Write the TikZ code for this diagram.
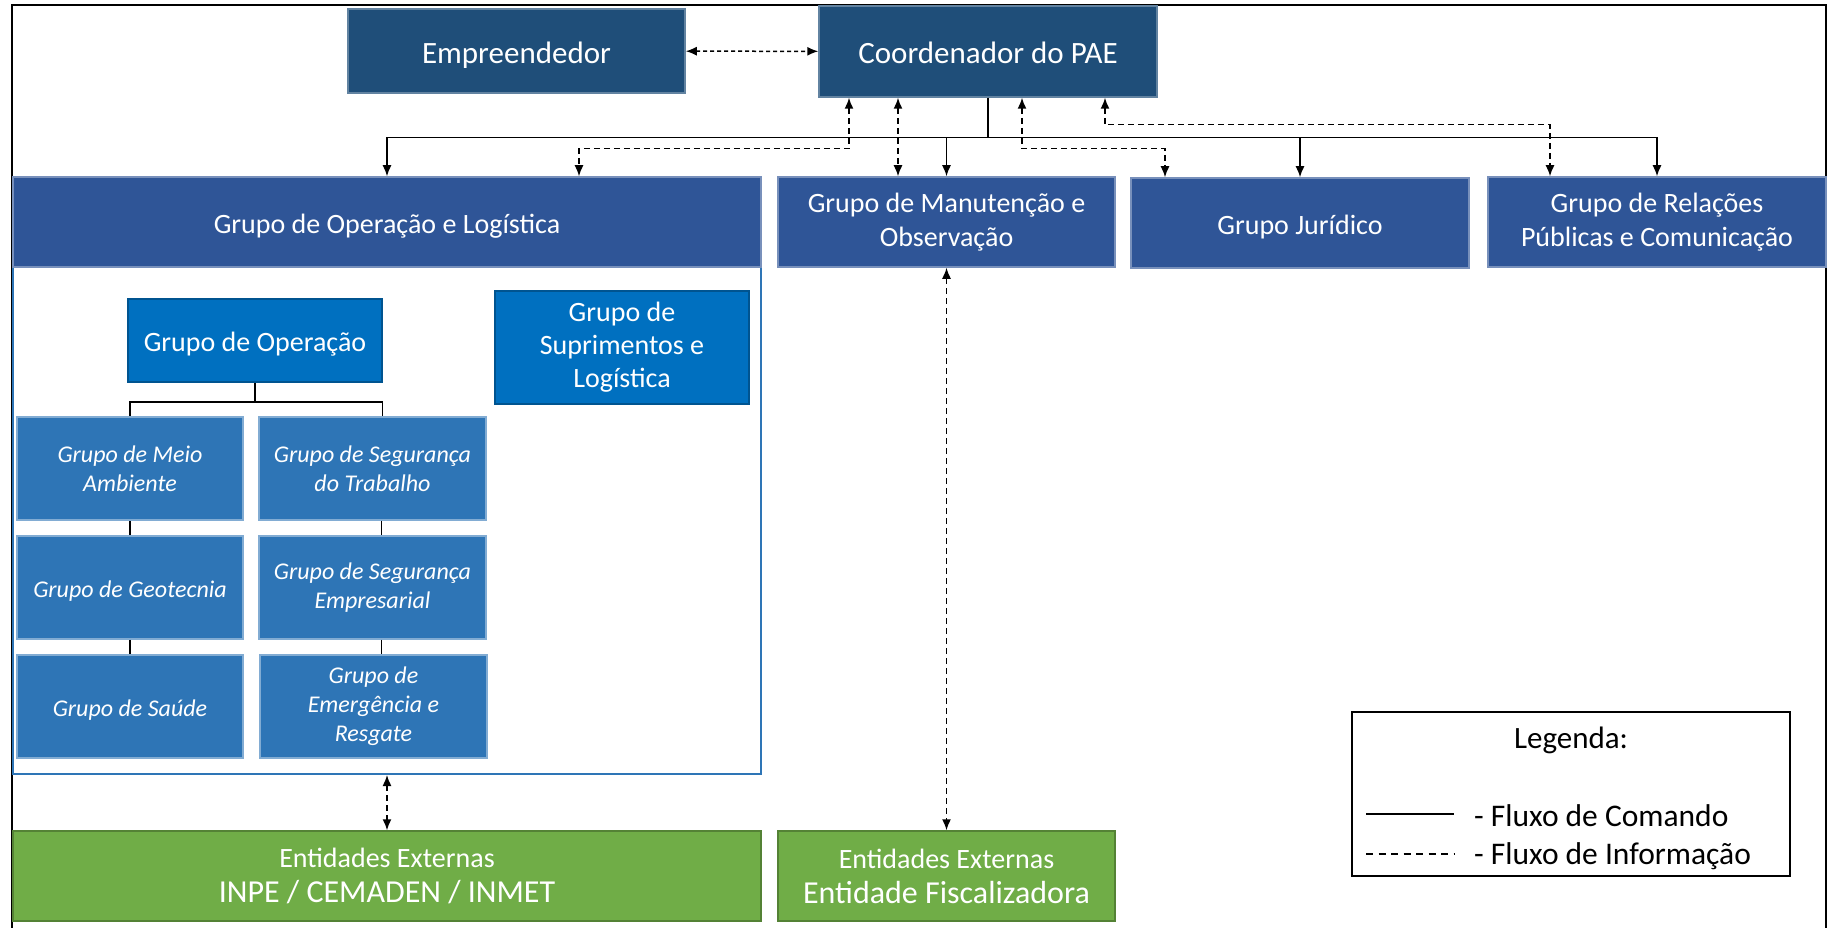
\documentclass[tikz,border=0pt]{standalone}
\usepackage{fontspec}
\setmainfont{Carlito}
\usepackage{xcolor}
\usepackage{tikz}
\usetikzlibrary{arrows.meta,calc}

\definecolor{topblue}{HTML}{1F4E79}
\definecolor{grpblue}{HTML}{2F5597}
\definecolor{opblue}{HTML}{0070C0}
\definecolor{subblue}{HTML}{2E75B6}
\definecolor{extgreen}{HTML}{70AD47}

\begin{document}
\begin{tikzpicture}[x=1pt,y=-1pt,
		>={Latex[length=11pt,width=9pt]},
		box/.style={rectangle,inner sep=0pt,align=center,text=white,line width=1.5pt},
		oneline/.style={execute at begin node={\rule{0pt}{1.05em}},
			execute at end node={\rule[-0.25em]{0pt}{0pt}}},
		topbox/.style={box,fill=topblue,draw=topblue!70!white,font=\fontsize{31}{37}\selectfont},
		grpbox/.style={box,fill=grpblue,draw=grpblue!65!white,font=\fontsize{28}{34}\selectfont},
		opbox/.style={box,fill=opblue,draw=opblue!75!black,font=\fontsize{28}{33}\selectfont},
		subbox/.style={box,fill=subblue,draw=subblue!60!white,font=\fontsize{24}{29}\selectfont\itshape},
		extbox/.style={box,fill=extgreen,draw=extgreen!75!black,font=\fontsize{28}{35}\selectfont},
		cmd/.style={line width=1.5pt},
		info/.style={line width=1.5pt,dash pattern=on 6pt off 4pt},
		tree/.style={line width=1.5pt}]
	\useasboundingbox (0,0) rectangle (1831,928);
	% outer frame
	\draw[line width=2pt] (12,928) -- (12,5) -- (1826,5) -- (1826,928);

	% top level
	\node[topbox,oneline,minimum width=337pt,minimum height=84pt] (emp) at (516.5,51) {Empreendedor};
	\node[topbox,oneline,minimum width=338pt,minimum height=91pt] (coord) at (988,51.5) {Coordenador do PAE};
	\draw[line width=1.5pt,dash pattern=on 4pt off 3pt,<->] (emp) -- (coord);

	% groups
	\node[draw=subblue,line width=2pt,fill=white,minimum width=748pt,minimum height=507pt] (golarea) at (387,520.5) {};
	\node[grpbox,oneline,minimum width=748pt,minimum height=90pt] (gol) at (387,222) {Grupo de Operação e Logística};
	\node[grpbox,minimum width=337pt,minimum height=90pt] (gmo) at (946.5,222) {Grupo de Manutenção e\\Observação};
	\node[grpbox,oneline,minimum width=338pt,minimum height=90pt] (jur) at (1300,223) {Grupo Jurídico};
	\node[grpbox,minimum width=338pt,minimum height=90pt] (rel) at (1657,222) {Grupo de Relações\\Públicas e Comunicação};

	% command flow
	\draw[cmd] (coord.south) -- ++(0,40) coordinate (bus);
	\draw[cmd,->] (bus) -| (gol);
	\draw[cmd,->] (bus) -| (gmo);
	\draw[cmd,->] (bus) -| (jur);
	\draw[cmd,->] (bus) -| (rel);

	% information flow
	\draw[info,<->] ([xshift=-139pt]coord.south) -- ++(0,51) -| ([xshift=192pt]gol.north);
	\draw[info,<->] ([xshift=-90pt]coord.south) -- ([xshift=-48.5pt]gmo.north);
	\draw[info,<->] ([xshift=34pt]coord.south) -- ++(0,51) -| ([xshift=-135pt]jur.north);
	\draw[info,<->] ([xshift=117pt]coord.south) -- ++(0,27) -| ([xshift=-107pt]rel.north);

	% inside Operacao e Logistica
	\node[opbox,oneline,minimum width=254pt,minimum height=83pt] (op) at (255,340.5) {Grupo de Operação};
	\node[opbox,minimum width=254pt,minimum height=113pt] (sup) at (622,347.5) {Grupo de\\Suprimentos e\\Logística};
	\node[subbox,minimum width=226pt,minimum height=103pt] (meio) at (130,468.5) {Grupo de Meio\\Ambiente};
	\node[subbox,minimum width=227pt,minimum height=103pt] (segtrab) at (372.5,468.5) {Grupo de Segurança\\do Trabalho};
	\node[subbox,oneline,minimum width=226pt,minimum height=103pt] (geo) at (130,587.5) {Grupo de Geotecnia};
	\node[subbox,minimum width=227pt,minimum height=103pt] (segemp) at (372.5,587.5) {Grupo de Segurança\\Empresarial};
	\node[subbox,oneline,minimum width=226pt,minimum height=103pt] (saude) at (130,706.5) {Grupo de Saúde};
	\node[subbox,minimum width=227pt,minimum height=103pt] (emerg) at (373.5,706.5) {Grupo de\\Emergência e\\Resgate};

	\draw[tree] (op.south) -- ++(0,19) coordinate (opbus);
	\draw[tree] (opbus) -| (meio);
	\draw[tree] (opbus) -| ([xshift=10pt]segtrab.north);
	\draw[tree] (meio) -- (geo);
	\draw[tree] (geo) -- (saude);
	\draw[tree] ([xshift=9pt]segtrab.south) -- ([xshift=9pt]segemp.north);
	\draw[tree] ([xshift=9pt]segemp.south) -- ([xshift=8pt]emerg.north);

	% external entities
	\node[extbox,minimum width=748pt,minimum height=90pt] (ext1) at (387,876) {Entidades Externas\\{\fontsize{32}{35}\selectfont INPE / CEMADEN / INMET}};
	\node[extbox,minimum width=337pt,minimum height=90pt] (ext2) at (946.5,876) {Entidades Externas\\{\fontsize{32}{35}\selectfont Entidade Fiscalizadora}};
	\draw[info,<->] (golarea) -- (ext1);
	\draw[info,<->] (gmo) -- (ext2);

	% legend
	\node[draw,line width=1.5pt,minimum width=438pt,minimum height=164pt] (legend) at (1571,794) {};
	\node[font=\fontsize{31}{37}\selectfont] (legtitle) at (1571,740) {Legenda:};
	\draw[line width=1.5pt] (1366,814) -- (1454,814);
	\draw[line width=1.5pt,dash pattern=on 7pt off 5.5pt] (1366,854) -- (1454,854);
	\node[anchor=west,inner sep=0pt,font=\fontsize{31.5}{37}\selectfont] (legcmd) at (1474,816) {- Fluxo de Comando};
	\node[anchor=west,inner sep=0pt,font=\fontsize{31.5}{37}\selectfont] (leginfo) at (1474,856) {- Fluxo de Informação};
\end{tikzpicture}
\end{document}
